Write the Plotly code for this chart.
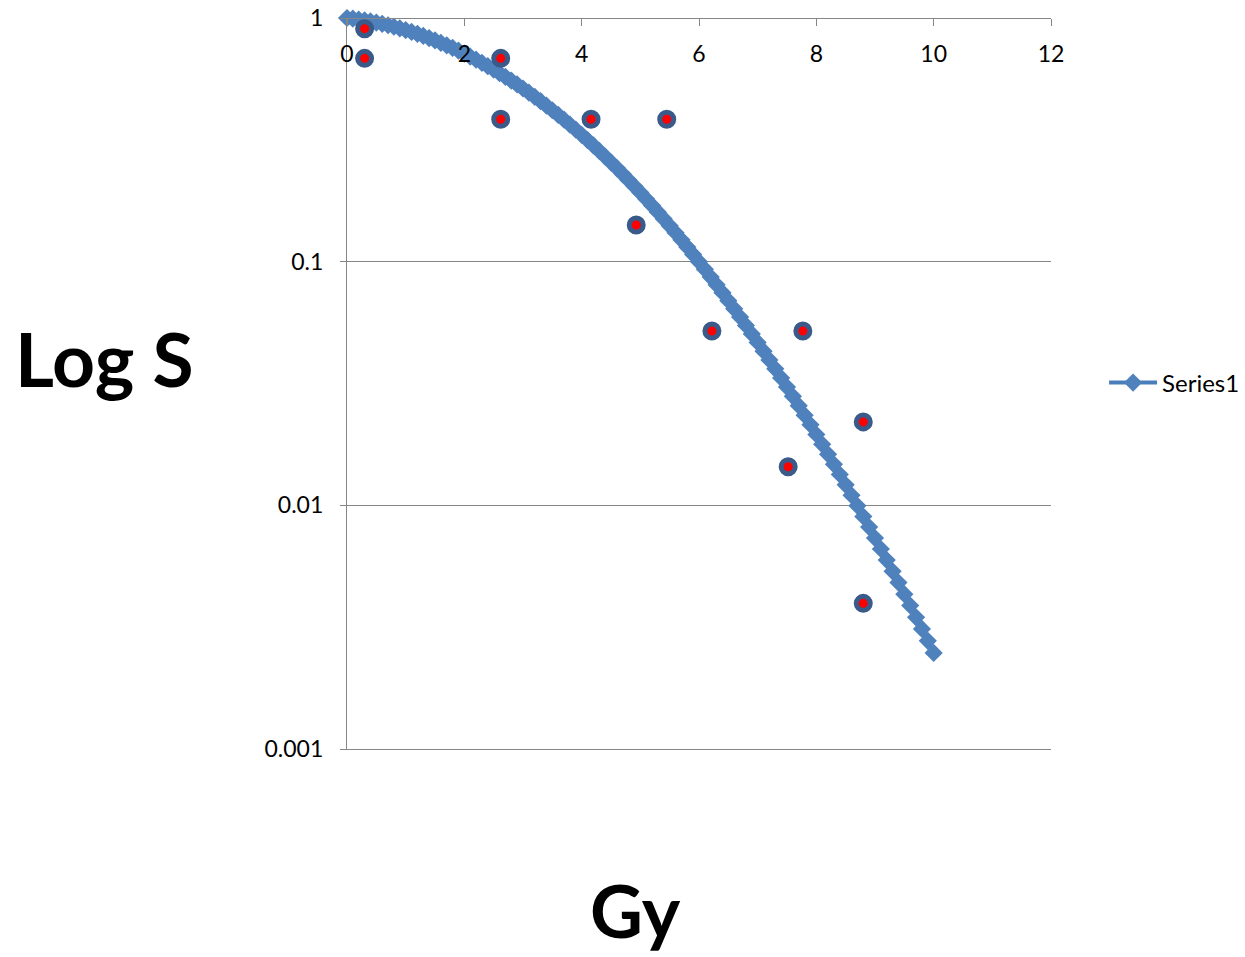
import plotly.graph_objects as go

# Fitted survival curve, dose (Gy) vs surviving fraction
dose_fit = [round(0.1 * i, 1) for i in range(101)]
surv_fit = [
    1.0, 0.99348, 0.98594, 0.97740, 0.96789, 0.95743, 0.94607, 0.93383, 0.92076, 0.90689,
    0.89226, 0.87692, 0.86091, 0.84429, 0.82709, 0.80937, 0.79117, 0.77255, 0.75355, 0.73422,
    0.71462, 0.69479, 0.67478, 0.65464, 0.63442, 0.61416, 0.59390, 0.57369, 0.55357, 0.53358,
    0.51376, 0.49414, 0.47475, 0.45563, 0.43681, 0.41832, 0.40018, 0.38241, 0.36504, 0.34807,
    0.33154, 0.31545, 0.29982, 0.28466, 0.26997, 0.25577, 0.24205, 0.22882, 0.21607, 0.20382,
    0.19205, 0.18077, 0.16996, 0.15963, 0.14977, 0.14036, 0.13141, 0.12289, 0.11480, 0.10713,
    0.09986, 0.09299, 0.08649, 0.08036, 0.07459, 0.06915, 0.06404, 0.05925, 0.05475, 0.05054,
    0.04661, 0.04293, 0.03951, 0.03631, 0.03334, 0.03058, 0.02802, 0.02564, 0.02344, 0.02141,
    0.01953, 0.01780, 0.01620, 0.01473, 0.01338, 0.01214, 0.01100, 0.00996, 0.00900, 0.00814,
    0.00734, 0.00662, 0.00596, 0.00536, 0.00482, 0.00432, 0.00388, 0.00347, 0.00311, 0.00278,
    0.00248,
]

# Measured points
dose_obs = [0.30, 0.30, 2.62, 2.62, 4.16, 5.45, 4.93, 6.22, 7.77, 8.80, 7.52, 8.80]
surv_obs = [0.904, 0.683, 0.683, 0.384, 0.384, 0.384, 0.1414, 0.0519, 0.0519, 0.0220, 0.0144, 0.00396]

x_ticks = [0, 2, 4, 6, 8, 10, 12]
y_ticks = [1, 0.1, 0.01, 0.001]
y_tick_text = ["1", "0.1", "0.01", "0.001"]

FONT = "Lato"
GRID = "#868686"

fig = go.Figure()

fig.add_trace(go.Scatter(
    x=dose_fit, y=surv_fit, mode="lines+markers", name="Series1",
    line=dict(color="#4A7EBB", width=4),
    marker=dict(symbol="diamond", size=14, color="#4F81BD", line=dict(width=0)),
    cliponaxis=False,
))

fig.add_trace(go.Scatter(
    x=dose_obs, y=surv_obs, mode="markers", showlegend=False,
    xaxis="x2", yaxis="y",
    marker=dict(symbol="circle", size=14, color="#FF0000",
                line=dict(color="#3A5A8A", width=5)),
    cliponaxis=False,
))

# bottom edge line only
fig.update_layout(xaxis=dict(
    range=[0, 12], showline=True, linecolor=GRID, linewidth=1.3,
    showticklabels=False, ticks="", showgrid=False, zeroline=False,
    automargin=False,
))
# the labelled dose axis crosses the log axis at S = 1 (top of the plot)
fig.update_layout(xaxis2=dict(
    range=[0, 12], matches="x", overlaying="x", anchor="free", position=1,
    side="bottom", tickvals=x_ticks,
    showline=True, linecolor=GRID, linewidth=1.3,
    ticks="outside", ticklen=7, tickcolor=GRID, tickwidth=1.3,
    ticklabelstandoff=8,
    showgrid=False, zeroline=False, automargin=False,
    tickfont=dict(family=FONT, size=23, color="#000000"),
))
fig.update_yaxes(
    type="log", range=[-3, 0], tickvals=y_ticks, ticktext=y_tick_text,
    showline=True, linecolor=GRID, linewidth=1.3,
    ticks="outside", ticklen=6, tickcolor=GRID, tickwidth=1.3,
    showgrid=True, gridcolor=GRID, gridwidth=1.3, zeroline=False,
    ticklabelstandoff=12, automargin=False,
    tickfont=dict(family=FONT, size=23, color="#000000"),
)

fig.add_annotation(text="<b>Log S</b>", xref="paper", yref="paper",
                   x=-0.3438, y=0.5349, xanchor="center", yanchor="middle",
                   showarrow=False,
                   font=dict(family=FONT, size=75, color="#000000"))
fig.add_annotation(text="<b>Gy</b>", xref="paper", yref="paper",
                   x=0.4105, y=-0.2202, xanchor="center", yanchor="middle",
                   showarrow=False,
                   font=dict(family=FONT, size=73, color="#000000"))

fig.update_layout(
    width=1245, height=957,
    margin=dict(l=347, r=194, t=18, b=208),
    paper_bgcolor="white", plot_bgcolor="white",
    showlegend=True,
    legend=dict(xref="container", yref="container",
                x=0.8868, y=0.5998, xanchor="left", yanchor="middle",
                font=dict(family=FONT, size=24, color="#000000"),
                itemwidth=48, bgcolor="rgba(0,0,0,0)"),
)

fig.write_html("out.html")
